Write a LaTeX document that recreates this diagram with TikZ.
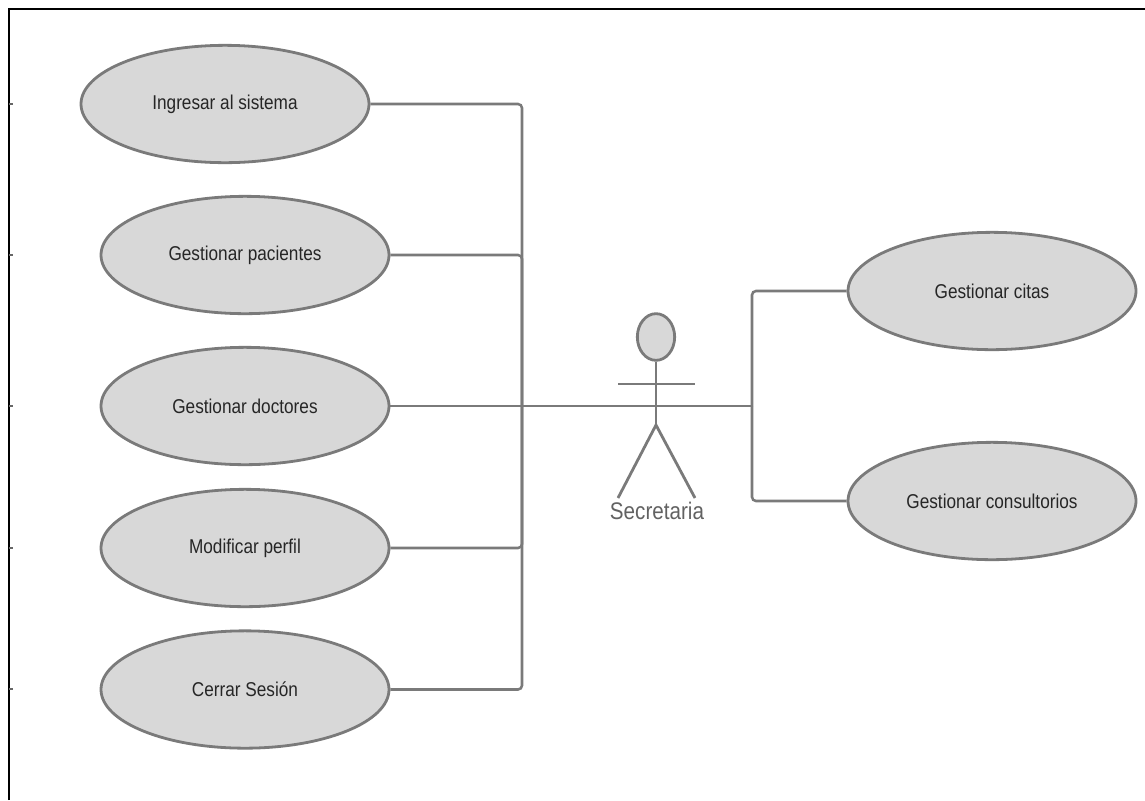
\documentclass[tikz,border=0pt]{standalone}
\usepackage{fontspec}
\setmainfont[FakeStretch=0.86]{Liberation Sans}
\usetikzlibrary{shapes.geometric}
\definecolor{umlfill}{HTML}{D8D8D8}
\definecolor{umlline}{HTML}{7A7A7A}
\tikzset{
  usecase/.style={ellipse, draw=umlline, fill=umlfill, line width=2.1pt,
    minimum width=216pt, minimum height=88pt, inner sep=0pt, text=black!85,
    font=\fontsize{15}{17}\selectfont},
  link/.style={draw=umlline, line width=1.9pt, rounded corners=3pt},
  limb/.style={draw=umlline, line width=2.1pt}
}
\begin{document}
\begin{tikzpicture}[x=0.75pt, y=-0.75pt]
  \useasboundingbox (0,0) rectangle (1145,800);

  % Frame
  \draw[black, line width=2.2pt] (9,800) -- (9,9) -- (1145,9);
  \foreach \ypos in {104,255,406,548,689}
    \draw[black!60, line width=1.5pt] (9,\ypos) -- ++(4,0);

  % Use cases
  \node[usecase] (ingresar) at (225,104) {Ingresar al sistema};
  \node[usecase] (pacientes) at (245,255) {Gestionar pacientes};
  \node[usecase] (doctores) at (245,406) {Gestionar doctores};
  \node[usecase] (perfil) at (245,548) {Modificar perfil};
  \node[usecase] (cerrar) at (245,689.5) {Cerrar Sesión};
  \node[usecase] (citas) at (992,291) {Gestionar citas};
  \node[usecase] (consultorios) at (992,501) {Gestionar consultorios};

  % Actor
  \node[ellipse, draw=umlline, fill=umlfill, line width=2.1pt, minimum width=28pt,
    minimum height=35pt, inner sep=0pt] (head) at (656,337) {};
  \coordinate (crotch) at (656,425);
  \coordinate (armL) at (618,384);
  \coordinate (armR) at (695,384);
  \coordinate (footL) at (618,498);
  \coordinate (footR) at (695,498);
  \draw[limb] (head.south) -- (crotch);
  \draw[limb] (armL) -- (armR);
  \draw[limb] (footL) -- (crotch) -- (footR);
  \node[text=umlline!80!black, font=\fontsize{18}{20}\selectfont] (secretaria) at (657,511) {Secretaria};

  % Connectors
  \coordinate (busL) at (522,406);
  \coordinate (busR) at (752,406);
  \draw[link] (doctores.east) -- (busR);
  \draw[link] (ingresar.east) -| (busL);
  \draw[link] (pacientes.east) -| (busL);
  \draw[link] (perfil.east) -| (busL);
  \draw[link] (cerrar.east) -| (busL);
  \draw[link] (citas.west) -| (busR);
  \draw[link] (consultorios.west) -| (busR);
\end{tikzpicture}
\end{document}
